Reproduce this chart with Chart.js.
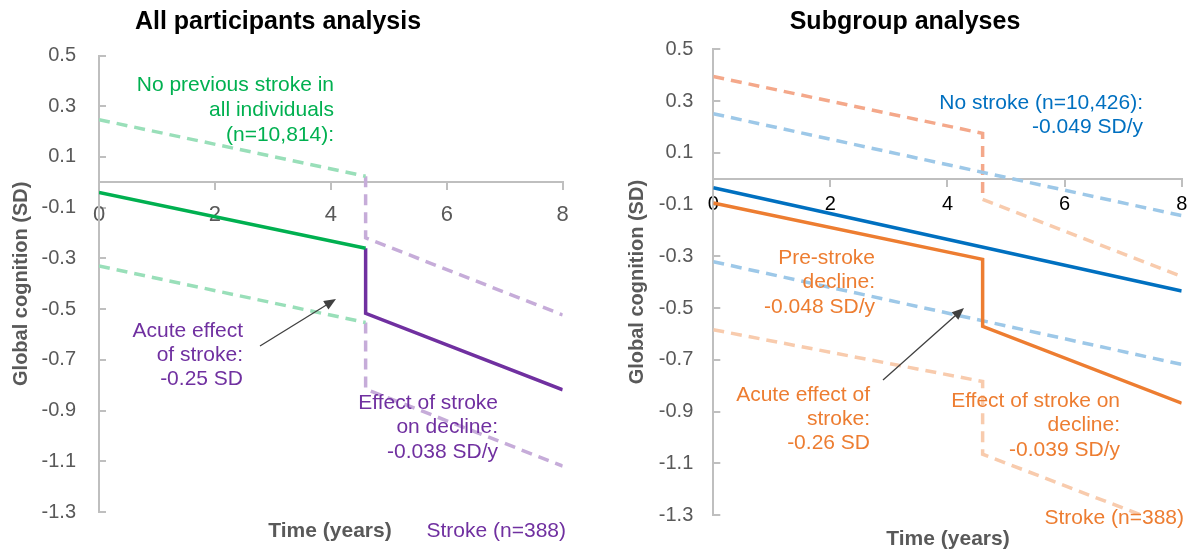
<!DOCTYPE html>
<html>
<head>
<meta charset="utf-8">
<script src="https://cdn.jsdelivr.net/npm/chart.js@4.4.1/dist/chart.umd.min.js"></script>
<style>
  body { margin: 0; background: #fff; }
  #wrap { position: relative; width: 1192px; height: 554px; overflow: hidden; }
  canvas { position: absolute; top: 0; }
  #leftChart { left: 0; }
  #rightChart { left: 596px; }
</style>
</head>
<body>
<div id="wrap">
  <canvas id="leftChart" width="596" height="554"></canvas>
  <canvas id="rightChart" width="596" height="554"></canvas>
</div>
<script>
// Axis ticks
const xTicks = [0, 2, 4, 6, 8];
const yTicks = [-1.3, -1.1, -0.9, -0.7, -0.5, -0.3, -0.1, 0.1, 0.3, 0.5];

// All participants analysis (time in years, cognition in SD)
const noStrokeT = [0, 4.6];
const noStrokeMid = [-0.04, -0.26];
const noStrokeHi = [0.247, 0.024];
const noStrokeLo = [-0.33, -0.553];
const strokeT = [4.6, 4.6, 8];
const strokeMid = [-0.26, -0.517, -0.818];
const strokeHi = [0.024, -0.219, -0.523];
const strokeLo = [-0.553, -0.815, -1.119];

// Subgroup analyses
const subNoT = [0, 8];
const subNoMid = [-0.035, -0.434];
const subNoHi = [0.251, -0.143];
const subNoLo = [-0.321, -0.718];
const subStrokeT = [0, 4.6, 4.6, 8];
const subStrokeMid = [-0.094, -0.312, -0.571, -0.868];
const subStrokeLo = [-0.584, -0.784, -1.065, -1.36];
const subStrokeHiPreT = [0, 4.6, 4.6];
const subStrokeHiPre = [0.395, 0.175, -0.08];
const subStrokeHiPostT = [4.6, 8];
const subStrokeHiPost = [-0.08, -0.378];

const FONT = "'Liberation Sans', Arial, sans-serif";
const GREY = "#595959";

const pts = (xs, ys) => xs.map((x, i) => ({ x: x, y: ys[i] }));

function line(xs, ys, color, dashed) {
  return {
    data: pts(xs, ys),
    borderColor: color,
    borderWidth: 3.5,
    borderDash: dashed ? [11, 7] : [],
    pointRadius: 0,
    tension: 0,
    order: dashed ? 2 : 1
  };
}

// text notes, arrows and title drawn on top of the plot
const notesPlugin = {
  id: "notes",
  afterDraw(chart, args, opts) {
    const ctx = chart.ctx;
    ctx.save();
    (opts.texts || []).forEach(n => {
      ctx.font = (n.bold ? "bold " : "") + n.size + "px " + FONT;
      ctx.fillStyle = n.color;
      ctx.textAlign = n.align || "right";
      ctx.textBaseline = "middle";
      n.lines.forEach((t, i) => ctx.fillText(t, n.x, n.y + i * (n.dy || 24.5)));
    });
    (opts.arrows || []).forEach(a => {
      const ang = Math.atan2(a.y2 - a.y1, a.x2 - a.x1);
      ctx.strokeStyle = "#404040";
      ctx.fillStyle = "#404040";
      ctx.lineWidth = 1.3;
      ctx.beginPath();
      ctx.moveTo(a.x1, a.y1);
      ctx.lineTo(a.x2 - 8 * Math.cos(ang), a.y2 - 8 * Math.sin(ang));
      ctx.stroke();
      ctx.beginPath();
      ctx.moveTo(a.x2, a.y2);
      ctx.lineTo(a.x2 - 12 * Math.cos(ang) + 5 * Math.sin(ang), a.y2 - 12 * Math.sin(ang) - 5 * Math.cos(ang));
      ctx.lineTo(a.x2 - 12 * Math.cos(ang) - 5 * Math.sin(ang), a.y2 - 12 * Math.sin(ang) + 5 * Math.cos(ang));
      ctx.closePath();
      ctx.fill();
    });
    ctx.restore();
  }
};

function makeOptions(cfg) {
  return {
    responsive: false,
    animation: false,
    layout: { padding: cfg.padding },
    plugins: {
      legend: { display: false },
      tooltip: { enabled: false },
      notes: { texts: cfg.texts, arrows: cfg.arrows }
    },
    scales: {
      x: {
        type: "linear",
        position: { y: 0 },
        min: 0,
        max: 8,
        afterBuildTicks: s => { s.ticks = xTicks.map(v => ({ value: v })); },
        afterFit: s => { s.height = 0; s.paddingLeft = 0; s.paddingRight = 0; },
        grid: { drawOnChartArea: false, drawTicks: true, tickLength: 7, color: "#BFBFBF", lineWidth: 2 },
        border: { color: "#BFBFBF", width: 2 },
        ticks: { color: cfg.xColor, font: { family: FONT, size: cfg.xSize }, padding: cfg.xPad, maxRotation: 0 }
      },
      y: {
        min: -1.3,
        max: 0.5,
        afterBuildTicks: s => { s.ticks = yTicks.map(v => ({ value: v })); },
        afterFit: s => { s.width = cfg.yWidth; },
        grid: { drawOnChartArea: false, drawTicks: true, tickLength: -7, color: "#BFBFBF", lineWidth: 2 },
        border: { color: "#BFBFBF", width: 2 },
        ticks: { color: GREY, font: { family: FONT, size: 20 }, padding: cfg.yPad, callback: v => v.toFixed(1) },
        title: {
          display: true,
          text: "Global cognition (SD)",
          color: GREY,
          font: { family: FONT, size: 20, weight: "bold" },
          padding: { top: cfg.yTitlePad, bottom: 0 }
        }
      }
    }
  };
}

new Chart(document.getElementById("leftChart"), {
  type: "line",
  data: {
    datasets: [
      line(noStrokeT, noStrokeMid, "#00B050", false),
      line(strokeT, strokeMid, "#7030A0", false),
      line(noStrokeT, noStrokeHi, "#99DFB9", true),
      line(noStrokeT, noStrokeLo, "#99DFB9", true),
      line(strokeT, strokeHi, "#C6ACD9", true),
      line(strokeT, strokeLo, "#C6ACD9", true)
    ]
  },
  options: makeOptions({
    padding: { top: 55.5, right: 33.3, bottom: 40, left: 0 },
    yWidth: 99, yPad: 30, yTitlePad: 9,
    xColor: GREY, xSize: 22, xPad: 12,
    texts: [
      { lines: ["All participants analysis"], x: 278, y: 22, size: 25, bold: true, color: "#000", align: "center" },
      { lines: ["No previous stroke in", "all individuals", "(n=10,814):"], x: 334, y: 85, dy: 25, size: 21, color: "#00B050" },
      { lines: ["Acute effect", "of stroke:", "-0.25 SD"], x: 243, y: 331, dy: 24, size: 21, color: "#7030A0" },
      { lines: ["Effect of stroke", "on decline:", "-0.038 SD/y"], x: 498, y: 403, dy: 24.5, size: 21, color: "#7030A0" },
      { lines: ["Stroke (n=388)"], x: 566, y: 531, size: 21, color: "#7030A0" },
      { lines: ["Time (years)"], x: 330, y: 531, size: 21, bold: true, color: GREY, align: "center" }
    ],
    arrows: [{ x1: 260, y1: 346, x2: 336, y2: 299 }]
  }),
  plugins: [notesPlugin]
});

new Chart(document.getElementById("rightChart"), {
  type: "line",
  data: {
    datasets: [
      line(subNoT, subNoMid, "#0070C0", false),
      line(subStrokeT, subStrokeMid, "#ED7D31", false),
      line(subNoT, subNoHi, "#9DC8E8", true),
      line(subNoT, subNoLo, "#9DC8E8", true),
      line(subStrokeHiPreT, subStrokeHiPre, "#F4A88A", true),
      line(subStrokeHiPostT, subStrokeHiPost, "#F8CBAD", true),
      line(subStrokeT, subStrokeLo, "#F8CBAD", true)
    ]
  },
  options: makeOptions({
    padding: { top: 49.3, right: 10.3, bottom: 24.7, left: 0 },
    yWidth: 117.3, yPad: 27, yTitlePad: 29,
    xColor: "#000", xSize: 20, xPad: 7,
    texts: [
      { lines: ["Subgroup analyses"], x: 309, y: 22, size: 25, bold: true, color: "#000", align: "center" },
      { lines: ["No stroke (n=10,426):", "-0.049 SD/y"], x: 547, y: 103, dy: 24, size: 21, color: "#0070C0" },
      { lines: ["Pre-stroke", "decline:", "-0.048 SD/y"], x: 279, y: 258, dy: 24.5, size: 21, color: "#ED7D31" },
      { lines: ["Acute effect of", "stroke:", "-0.26 SD"], x: 274, y: 395, dy: 24, size: 21, color: "#ED7D31" },
      { lines: ["Effect of stroke on", "decline:", "-0.039 SD/y"], x: 524, y: 401, dy: 24.5, size: 21, color: "#ED7D31" },
      { lines: ["Stroke (n=388)"], x: 588, y: 518, size: 21, color: "#ED7D31" },
      { lines: ["Time (years)"], x: 352, y: 539, size: 21, bold: true, color: GREY, align: "center" }
    ],
    arrows: [{ x1: 287, y1: 380, x2: 368, y2: 308 }]
  }),
  plugins: [notesPlugin]
});
</script>
</body>
</html>
